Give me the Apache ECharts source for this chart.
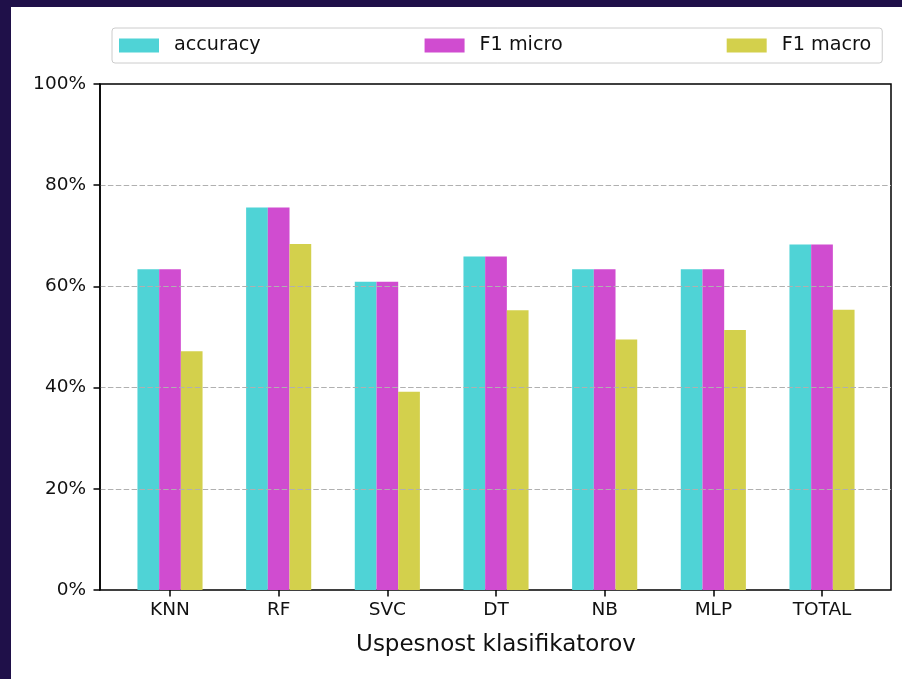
<!DOCTYPE html>
<html>
<head>
<meta charset="utf-8">
<script src="https://cdn.jsdelivr.net/npm/echarts@6/dist/echarts.min.js"></script>
<style>
html,body{margin:0;padding:0;width:902px;height:679px;background:#1f1049;overflow:hidden;}
#chart{position:absolute;left:11px;top:7px;width:891px;height:672px;background:#ffffff;}
</style>
</head>
<body>
<div id="chart"></div>
<script>
const categories = ['KNN', 'RF', 'SVC', 'DT', 'NB', 'MLP', 'TOTAL'];
const accuracy = [63.4, 75.6, 60.9, 65.9, 63.4, 63.4, 68.3];
const f1Micro = [63.4, 75.6, 60.9, 65.9, 63.4, 63.4, 68.3];
const f1Macro = [47.2, 68.4, 39.2, 55.3, 49.5, 51.4, 55.4];
const yTicks = [0, 20, 40, 60, 80, 100];
const seriesNames = ['accuracy', 'F1 micro', 'F1 macro'];
const colors = ['#4fd3d6', '#d04cd0', '#d3d04c'];

const FONT = 'DejaVu Sans';
const chart = echarts.init(document.getElementById('chart'), null, {renderer: 'canvas'});

const seriesData = [accuracy, f1Micro, f1Macro];

const option = {
  animation: false,
  backgroundColor: '#ffffff',
  color: colors,
  textStyle: {fontFamily: FONT},
  legend: {
    left: 101, top: 21,
    padding: [7, 11, 7, 7],
    itemWidth: 40, itemHeight: 14, itemGap: 164,
    borderColor: '#cccccc', borderWidth: 1, borderRadius: 3,
    backgroundColor: '#ffffff',
    icon: 'rect',
    textStyle: {fontFamily: FONT, fontSize: 19.2, color: '#111', lineHeight: 21, padding: [0, 0, 0, 10]},
    data: seriesNames
  },
  grid: [
    {left: 89, top: 77, width: 791, height: 506, show: true, borderColor: '#000', borderWidth: 1.5, backgroundColor: 'transparent', containLabel: false},
    {left: 104.67, top: 77, width: 760.67, height: 506, show: false, containLabel: false}
  ],
  xAxis: [
    {gridIndex: 0, type: 'category', data: categories, show: false},
    {gridIndex: 1, type: 'category', data: categories, boundaryGap: true,
      axisLine: {show: false},
      axisTick: {show: true, alignWithLabel: true, length: 6.5, lineStyle: {color: '#000', width: 1.5}},
      axisLabel: {fontFamily: FONT, fontSize: 18.5, color: '#111', margin: 11},
      splitLine: {show: false},
      name: 'Uspesnost klasifikatorov', nameLocation: 'middle', nameGap: 44,
      nameTextStyle: {fontFamily: FONT, fontSize: 23, color: '#111'}
    }
  ],
  yAxis: [
    {gridIndex: 0, type: 'value', min: yTicks[0], max: yTicks[yTicks.length - 1], interval: 20, z: 5,
      axisLine: {show: true, lineStyle: {color: '#000', width: 1.5}},
      axisTick: {show: true, length: 6.5, lineStyle: {color: '#000', width: 1.5}},
      axisLabel: {fontFamily: FONT, fontSize: 18.5, color: '#111', margin: 14, formatter: '{value}%'},
      splitLine: {show: true, showMinLine: false, showMaxLine: false, lineStyle: {color: '#b0b0b0', width: 1.2, type: [5.5, 2.4]}}
    },
    {gridIndex: 1, type: 'value', min: yTicks[0], max: yTicks[yTicks.length - 1], show: false, splitLine: {show: false}}
  ],
  series: seriesNames.map((name, i) => ({
    name: name,
    type: 'bar',
    xAxisIndex: 1, yAxisIndex: 1,
    barWidth: 21.7,
    barGap: '0%',
    itemStyle: {color: colors[i]},
    z: 2,
    data: seriesData[i]
  }))
};
chart.setOption(option);
</script>
</body>
</html>
